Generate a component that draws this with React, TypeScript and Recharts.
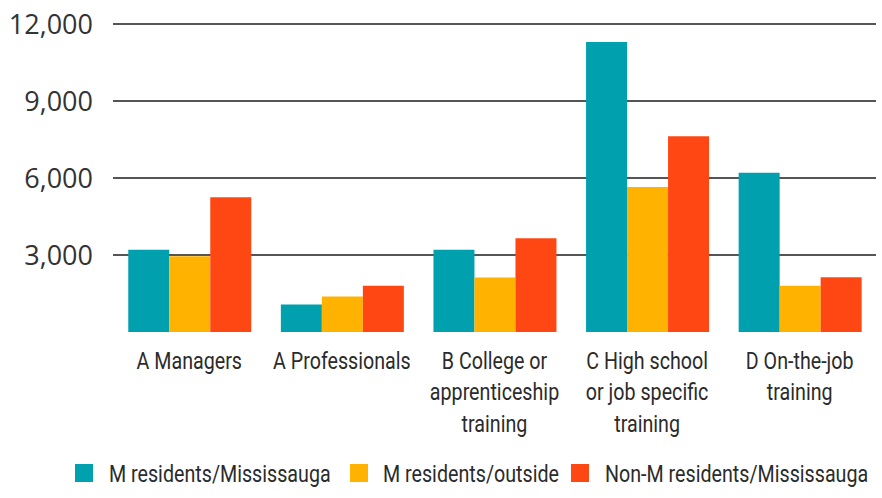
import React from 'react';
import { BarChart, Bar, XAxis, YAxis, CartesianGrid, Legend } from 'recharts';

const categories = [
  'A Managers',
  'A Professionals',
  'B College or apprenticeship training',
  'C High school or job specific training',
  'D On-the-job training',
];
const categoryLines = [
  ['A Managers'],
  ['A Professionals'],
  ['B College or', 'apprenticeship', 'training'],
  ['C High school', 'or job specific', 'training'],
  ['D On-the-job', 'training'],
];
const residentsMississauga = [3200, 1070, 3200, 11300, 6200];
const residentsOutside = [2950, 1380, 2120, 5650, 1800];
const nonResidentsMississauga = [5250, 1800, 3650, 7630, 2130];
const yTicks = [3000, 6000, 9000, 12000];

const seriesNames = ['M residents/Mississauga', 'M residents/outside', 'Non-M residents/Mississauga'];
const colors = ['#00a0af', '#ffb300', '#ff4713'];

const data = categories.map((c, i) => ({
  category: c,
  resM: residentsMississauga[i],
  resOut: residentsOutside[i],
  nonRes: nonResidentsMississauga[i],
}));

// no condensed face installed, so squeeze Roboto horizontally
const labelFont = 'Roboto, "Liberation Sans", sans-serif';
const squeeze = 0.82;

function CategoryTick(props: any) {
  const { x, y, payload } = props;
  const idx = categories.indexOf(payload.value);
  const lines = categoryLines[idx] || [payload.value];
  return (
    <g transform={`translate(${x},${y}) scale(${squeeze},1)`}>
      <text x={0} y={0} textAnchor="middle" fill="#2b2b2b" fontSize={24} fontFamily={labelFont}>
        {lines.map((l, i) => (
          <tspan key={i} x={0} dy={i === 0 ? 37 : 31.5}>
            {l}
          </tspan>
        ))}
      </text>
    </g>
  );
}

// legend item slots: square x, text x
const legendSlots = [
  [75, 109],
  [350, 383],
  [571, 605],
];

function LegendContent() {
  return (
    <svg width={882} height={30} style={{ display: 'block' }}>
      {seriesNames.map((n, i) => (
        <g key={n}>
          <rect x={legendSlots[i][0]} y={6} width={18} height={18} fill={colors[i]} />
          <g transform={`translate(${legendSlots[i][1]},23.5) scale(${squeeze},1)`}>
            <text x={0} y={0} fill="#2b2b2b" fontSize={24} fontFamily={labelFont}>
              {n}
            </text>
          </g>
        </g>
      ))}
    </svg>
  );
}

export default function App() {
  return (
    <div style={{ position: 'absolute', left: 0, top: 0, background: '#fff' }}>
      <BarChart
        width={882}
        height={498}
        data={data}
        margin={{ top: 24, right: 6, left: 0, bottom: 10 }}
        barCategoryGap="10%"
        barGap={0}
      >
        <CartesianGrid vertical={false} stroke="#555" strokeWidth={2} horizontalValues={yTicks} />
        <XAxis
          dataKey="category"
          axisLine={false}
          tickLine={false}
          tickSize={0}
          tickMargin={0}
          height={126}
          interval={0}
          tick={<CategoryTick />}
        />
        <YAxis
          width={113}
          domain={[0, 12000]}
          ticks={yTicks}
          axisLine={false}
          tickLine={false}
          tickSize={0}
          tickMargin={20}
          tickFormatter={(v: number) => v.toLocaleString('en-US')}
          tick={{ fill: '#333', fontSize: 27, fontFamily: '"Open Sans", sans-serif' }}
        />
        <Legend
          verticalAlign="bottom"
          height={30}
          content={<LegendContent />}
          wrapperStyle={{ left: 0, width: 882 }}
        />
        <Bar dataKey="resM" name={seriesNames[0]} fill={colors[0]} isAnimationActive={false} />
        <Bar dataKey="resOut" name={seriesNames[1]} fill={colors[1]} isAnimationActive={false} />
        <Bar dataKey="nonRes" name={seriesNames[2]} fill={colors[2]} isAnimationActive={false} />
      </BarChart>
    </div>
  );
}
